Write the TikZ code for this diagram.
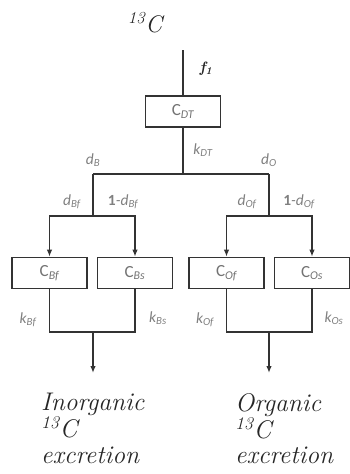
\documentclass[tikz,border=0pt]{standalone}
\usepackage{fontspec}
\newfontfamily\lblfont{Carlito}
\usetikzlibrary{arrows.meta, positioning}

\begin{document}
\begin{tikzpicture}[
    x=1pt, y=-1pt,
    pool/.style={draw=black!80, line width=1.6pt, minimum width=75pt, minimum height=31pt,
                 inner sep=0pt, font=\lblfont\fontsize{17}{19}\selectfont, text=black!55},
    flow/.style={draw=black!80, line width=1.6pt},
    arr/.style={flow, -{Latex[length=7pt, width=5.5pt]}},
    lbl/.style={font=\lblfont\itshape\fontsize{15.5}{17}\selectfont, text=black!50, inner sep=1pt},
    big/.style={font=\itshape\fontsize{25.5}{25.5}\selectfont, text=black!85, align=left, inner sep=0pt},
]
\useasboundingbox (0,0) rectangle (350,474);

% --- levels (pixels, y downwards) ---
\def\ySplit{174}   % first branching
\def\yArr{216}     % second branching, arrows start
\def\yPool{273}    % centre of the four pools
\def\yJoin{332}    % outflows joined
\def\yOut{373}     % arrow tips

% title and input
\node[big, font=\itshape\fontsize{24}{28}\selectfont] (title) at (145,23) {\textsuperscript{13}C};
\coordinate (in) at (183,50);
\node[font=\bfseries\itshape\fontsize{15}{17}\selectfont, text=black!85] (f1) at (206,69)
      {f\textsubscript{1}};

% central pool
\node[pool] (cdt) at (183,111.5) {C\textsubscript{\itshape DT}};
\draw[flow] (in) -- (cdt);

% first split
\coordinate (jDT) at (183,\ySplit);
\coordinate (jB)  at (93,\ySplit);
\coordinate (jO)  at (269,\ySplit);
\draw[flow] (cdt) -- (jDT);
\draw[flow] (jB) -- (jO);
\node[lbl] (kdt) at (203,150) {k\textsubscript{DT}};
\node[lbl] (db)  at (93,160)  {d\textsubscript{B}};
\node[lbl] (do)  at (269,160) {d\textsubscript{O}};

% second split
\coordinate (jB2) at (93,\yArr);
\coordinate (jO2) at (269,\yArr);
\draw[flow] (jB) -- (jB2);
\draw[flow] (jO) -- (jO2);

% the four pools
\node[pool] (cbf) at (49.5,\yPool)  {C\textsubscript{\itshape Bf}};
\node[pool] (cbs) at (135,\yPool)   {C\textsubscript{\itshape Bs}};
\node[pool] (cof) at (226.5,\yPool) {C\textsubscript{\itshape Of}};
\node[pool] (cos) at (312,\yPool)   {C\textsubscript{\itshape Os}};

\draw[arr] (jB2) -| (cbf.north);
\draw[arr] (jB2) -| (cbs.north);
\draw[arr] (jO2) -| (cof.north);
\draw[arr] (jO2) -| (cos.north);

\node[lbl] (dbf)  at (72,202)  {d\textsubscript{Bf}};
\node[lbl] (dbs)  at (123,202) {{\upshape\bfseries 1}-d\textsubscript{Bf}};
\node[lbl] (dof)  at (247,202) {d\textsubscript{Of}};
\node[lbl] (dos)  at (299,202) {{\upshape\bfseries 1}-d\textsubscript{Of}};

% outflows
\coordinate (jBot)  at (93,\yJoin);
\coordinate (jOrg)  at (269,\yJoin);
\coordinate (tipB)  at (93,\yOut);
\coordinate (tipO)  at (269,\yOut);
\draw[flow] (cbf.south) |- (jBot) -| (cbs.south);
\draw[flow] (cof.south) |- (jOrg) -| (cos.south);
\draw[arr] (jBot) -- (tipB);
\draw[arr] (jOrg) -- (tipO);

\node[lbl] (kbf) at (28,320)  {k\textsubscript{Bf}};
\node[lbl] (kbs) at (158,318) {k\textsubscript{Bs}};
\node[lbl] (kof) at (205,320) {k\textsubscript{Of}};
\node[lbl] (kos) at (334,318) {k\textsubscript{Os}};

% sinks
\node[big, anchor=north west] (inorg) at (41,393)
      {Inorganic\\\textsuperscript{13}C\\excretion};
\node[big, anchor=north west] (org) at (235,393)
      {Organic\\\textsuperscript{13}C\\excretion};
\end{tikzpicture}
\end{document}
